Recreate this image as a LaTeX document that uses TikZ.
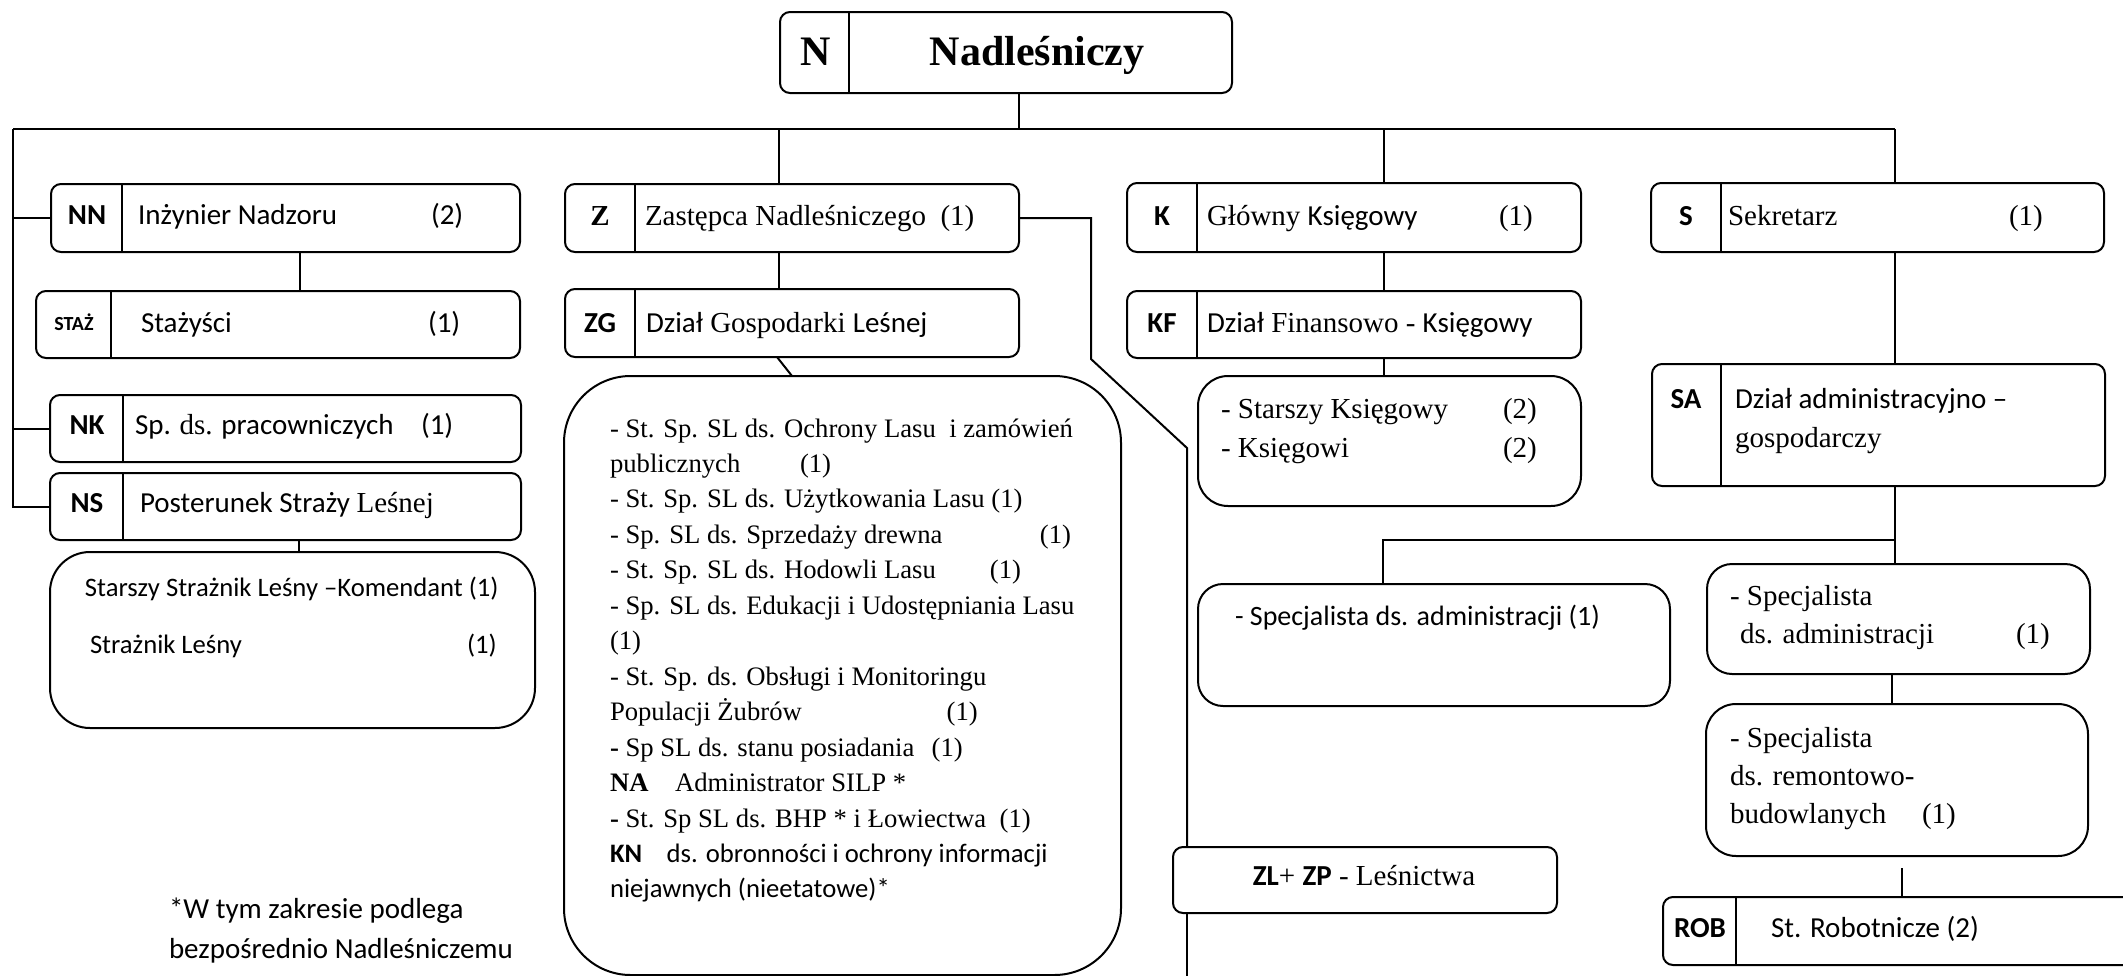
\documentclass[tikz,border=0pt]{standalone}
\usepackage{fontspec}
\setmainfont{Liberation Serif}
\newfontfamily\sansf{Carlito}
\usetikzlibrary{fit}

\begin{document}
\begin{tikzpicture}[x=0.3pt,y=-0.3pt,line width=0.6pt,
  font=\fontsize{8.7}{10}\selectfont,
  unit/.style={draw,rounded corners=3pt,inner sep=0pt},
  listbox/.style={draw,inner sep=0pt,rounded corners=#1},
  listbox/.default=8pt,
  tab/.style={inner sep=0pt,anchor=base,font=\sansf\bfseries\fontsize{8.7}{10}\selectfont},
  txt/.style={inner sep=0pt,anchor=base west},
  sanstxt/.style={inner sep=0pt,anchor=base west,font=\sansf\fontsize{8.7}{10}\selectfont},
  item/.style={inner sep=0pt,anchor=base west,font=\fontsize{8}{10}\selectfont}]

\useasboundingbox (0,0) rectangle (2123,976);

\node[unit,fit={(780,12) (1232,93)}] (n) {};
\node[unit,fit={(51,184) (520,252)}] (nn) {};
\node[unit,fit={(36,291) (520,358)}] (staz) {};
\node[unit,fit={(50,395) (521,462)}] (nk) {};
\node[unit,fit={(50,473) (521,540)}] (ns) {};
\node[listbox=12pt,fit={(50,552) (535,728)}] (strazlist) {};
\node[unit,fit={(565,184) (1019,252)}] (z) {};
\node[unit,fit={(565,289) (1019,357)}] (zg) {};
\node[listbox=20pt,fit={(564,376) (1121,975)}] (zglist) {};
\node[unit,fit={(1127,183) (1581,252)}] (k) {};
\node[unit,fit={(1127,291) (1581,358)}] (kf) {};
\node[listbox=9pt,fit={(1198,376) (1581,506)}] (klist) {};
\node[unit,fit={(1651,183) (2104,252)}] (s) {};
\node[unit,fit={(1652,364) (2105,486)}] (sa) {};
\node[listbox=7.5pt,fit={(1198,584) (1670,706)}] (spec1) {};
\node[listbox=7.5pt,fit={(1707,564) (2090,674)}] (spec2) {};
\node[listbox=9pt,fit={(1706,704) (2088,856)}] (remont) {};
\node[unit,fit={(1173,847) (1557,913)}] (zl) {};
\node[unit,fit={(1663,897) (2140,965)}] (rob) {};

\foreach \b/\x in {n/849,nn/122,staz/111,nk/123,ns/123,z/635,zg/635,k/1197,kf/1197,s/1721,sa/1721,rob/1736}
  \draw (\x,0 |- \b.north) -- (\x,0 |- \b.south);

\node[tab,font=\bfseries\fontsize{12.6}{14}\selectfont] (n-t) at (816,65) {N};
\node[tab,font=\bfseries\fontsize{12.6}{14}\selectfont] (n-l) at (1037,65) {Nadleśniczy};

\node[tab] (nn-t) at (87,224) {NN};
\node[sanstxt] (nn-l) at (137,224) {Inżynier Nadzoru};
\node[sanstxt] (nn-c) at (430,224) {(2)};

\node[tab,font=\sansf\bfseries\fontsize{6}{7}\selectfont] (staz-t) at (74,330) {STAŻ};
\node[sanstxt] (staz-l) at (140,332) {Stażyści};
\node[sanstxt] (staz-c) at (427,332) {(1)};

\node[tab] (nk-t) at (87,434) {NK};
\node[sanstxt] (nk-l) at (134,434) {Sp. {\rmfamily ds.} pracowniczych};
\node[sanstxt] (nk-c) at (420,434) {(1)};

\node[tab] (ns-t) at (87,512) {NS};
\node[sanstxt] (ns-l) at (139,512) {Posterunek Straży {\rmfamily Leśnej}};

\node[sanstxt,font=\sansf\fontsize{8}{10}\selectfont] (straz-1) at (84,596) {Starszy Strażnik Leśny –Komendant (1)};
\node[sanstxt,font=\sansf\fontsize{8}{10}\selectfont] (straz-2) at (89,653) {Strażnik Leśny};
\node[sanstxt,font=\sansf\fontsize{8}{10}\selectfont] (straz-c) at (466,653) {(1)};

\node[tab,font=\bfseries\fontsize{8.7}{10}\selectfont] (z-t) at (600,225) {Z};
\node[txt] (z-l) at (644,225) {Zastępca Nadleśniczego\ \ (1)};

\node[tab] (zg-t) at (600,332) {ZG};
\node[txt] (zg-l) at (645,332) {{\sansf Dział} Gospodarki {\sansf Leśnej}};

\foreach \t [count=\i] in {
  {- St. Sp. SL ds. Ochrony Lasu\ \ i zamówień},
  {\makebox[57pt][l]{publicznych}(1)},
  {- St. Sp. SL ds. Użytkowania Lasu (1)},
  {\makebox[129pt][l]{- Sp. SL ds. Sprzedaży drewna}(1)},
  {\makebox[114pt][l]{- St. Sp. SL ds. Hodowli Lasu}(1)},
  {- Sp. SL ds. Edukacji i Udostępniania Lasu},
  {(1)},
  {- St. Sp. ds. Obsługi i Monitoringu},
  {\makebox[101pt][l]{Populacji Żubrów}(1)},
  {\makebox[96.5pt][l]{\textbf{-} Sp SL ds. stanu posiadania}(1)},
  {\makebox[19.5pt][l]{\textbf{NA}}Administrator SILP *},
  {\textbf{-} St. Sp SL ds. BHP * i Łowiectwa\ \ (1)},
  {\sansf\makebox[17pt][l]{\textbf{KN}}ds. obronności i ochrony informacji},
  {\sansf niejawnych (nieetatowe)*}}
  \node[item] (zg-\i) at (609,{437+35.46*(\i-1)}) {\t};

\node[tab] (k-t) at (1162,225) {K};
\node[txt] (k-l) at (1206,225) {Główny {\sansf Księgowy}};
\node[txt] (k-c) at (1498,225) {(1)};

\node[tab] (kf-t) at (1162,332) {KF};
\node[txt] (kf-l) at (1206,332) {{\sansf Dział} Finansowo - {\sansf Księgowy}};

\node[txt] (klist-1) at (1220,418) {- Starszy Księgowy};
\node[txt] (klist-1c) at (1502,418) {(2)};
\node[txt] (klist-2) at (1220,457) {- Księgowi};
\node[txt] (klist-2c) at (1502,457) {(2)};

\node[tab] (s-t) at (1686,225) {S};
\node[txt] (s-l) at (1727,225) {Sekretarz};
\node[txt] (s-c) at (2008,225) {(1)};

\node[tab] (sa-t) at (1686,408) {SA};
\node[sanstxt] (sa-l) at (1734,408) {Dział administracyjno –};
\node[txt] (sa-l2) at (1734,447) {gospodarczy};

\node[sanstxt,font=\sansf\fontsize{8.4}{10}\selectfont] (spec1-l) at (1234,625) {- Specjalista ds. administracji (1)};

\node[txt] (spec2-1) at (1729,605) {- Specjalista};
\node[txt] (spec2-2) at (1739,643) {ds. administracji};
\node[txt] (spec2-c) at (2015,643) {(1)};

\node[txt] (remont-1) at (1729,747) {- Specjalista};
\node[txt] (remont-2) at (1729,785) {ds. remontowo-};
\node[txt] (remont-3) at (1729,823) {budowlanych};
\node[txt] (remont-c) at (1921,823) {(1)};

\node[inner sep=0pt,anchor=base] (zl-l) at (1364,885) {{\sansf\bfseries ZL}+ {\sansf\bfseries ZP} - Leśnictwa};

\node[tab] (rob-t) at (1700,937) {ROB};
\node[sanstxt] (rob-l) at (1770,937) {St. Robotnicze (2)};

\node[sanstxt] (note-1) at (168,918) {*W tym zakresie podlega};
\node[sanstxt] (note-2) at (168,958) {bezpośrednio Nadleśniczemu};

\coordinate (busL) at (13,129);
\coordinate (busR) at (1895,129);
\coordinate (nbus) at (1019,129);
\coordinate (zbus) at (779,129);
\coordinate (kbus) at (1384,129);
\coordinate (nnd) at (300,252);
\coordinate (nsd) at (299,540);
\coordinate (zga) at (777,357);
\coordinate (zgb) at (792,376);
\coordinate (zr1) at (1091,218);
\coordinate (zr2) at (1091,359);
\coordinate (zr3) at (1187,448);
\coordinate (zr4) at (1187,976);
\coordinate (sabr) at (1895,540);
\coordinate (sabl) at (1383,540);
\coordinate (sp2) at (1892,674);
\coordinate (rb) at (1902,868);

\draw (nbus |- n.south) -- (nbus);
\draw (busL) -- (busR);
\draw (busL) -- (busL |- ns.west) -- (ns.west);
\draw (busL |- nn.west) -- (nn.west);
\draw (busL |- nk.west) -- (nk.west);
\draw (nnd) -- (nnd |- staz.north);
\draw (nsd) -- (nsd |- strazlist.north);
\draw (zbus) -- (zbus |- z.north);
\draw (zbus |- z.south) -- (zbus |- zg.north);
\draw (zga) -- (zgb);
\draw (z.east) -- (zr1) -- (zr2) -- (zr3) -- (zr3 |- zl.north);
\draw (zr3 |- zl.south) -- (zr4);
\draw (kbus) -- (kbus |- k.north);
\draw (kbus |- k.south) -- (kbus |- kf.north);
\draw (kbus |- kf.south) -- (kbus |- klist.north);
\draw (busR) -- (busR |- s.north);
\draw (busR |- s.south) -- (busR |- sa.north);
\draw (busR |- sa.south) -- (busR |- spec2.north);
\draw (sabr) -- (sabl) -- (sabl |- spec1.north);
\draw (sp2) -- (sp2 |- remont.north);
\draw (rb) -- (rb |- rob.north);
\end{tikzpicture}
\end{document}
